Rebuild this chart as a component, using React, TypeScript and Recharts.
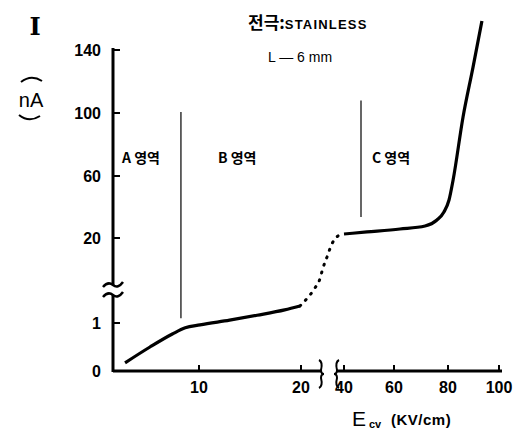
import React from "react";
import { LineChart, Line, XAxis, YAxis, ReferenceLine, Customized } from "recharts";

// E_cv (kV/cm) vs I (nA), three pieces of the curve
const lowFieldKV = [1.4, 4.3, 6.9, 8.4, 10.1, 13.0, 15.7, 18.4, 19.9];
const lowCurrentNA = [0.17, 0.5, 0.77, 0.9, 0.96, 1.06, 1.16, 1.27, 1.35];
const transFieldKV = [19.9, 23.3, 26.5, 28.8, 30.2, 32.1, 34.4, 37.2, 40];
const transCurrentNA = [1.35, 1.53, 2.06, 5.3, 9.2, 13.2, 17.9, 21.3, 22.6];
const highFieldKV = [40, 49.2, 62.2, 71.5, 75.9, 78.5, 80.4, 82, 85.9, 89.8, 93.3];
const highCurrentNA = [22.6, 23.9, 25.8, 27.7, 31.6, 36.8, 44.5, 57.4, 97.5, 129, 158.4];

const xTicks = [10, 20, 40, 60, 80, 100];
const yTicks = [0, 1, 20, 60, 100, 140];

// region boundaries: x value, y from, y to
const regionBoundKV = [7.9, 46.8];
const regionBoundFrom = [1.1, 33.5];
const regionBoundTo = [100.7, 108];
const regionNames = ["A 영역", "B 영역", "C 영역"];

// broken axes: piecewise scale anchors (value -> position in px from origin)
const X_VAL = [0, 10, 20, 40, 60, 80, 100];
const X_POS = [0, 86, 188, 231, 281, 335, 386];
const Y_VAL = [0, 1, 1.7, 20, 60, 100, 140];
const Y_POS = [0, 48, 82, 133, 195, 258, 321];

const W = 526;
const H = 435;
const LEFT = 113;
const TOP = 20;
const PLOT_W = 392;
const PLOT_H = 351;
const BOTTOM = TOP + PLOT_H;

const interp = (v: number, vals: number[], pos: number[]) => {
  let i = 0;
  while (i < vals.length - 2 && v > vals[i + 1]) i++;
  const t = (v - vals[i]) / (vals[i + 1] - vals[i]);
  return pos[i] + t * (pos[i + 1] - pos[i]);
};
const xPos = (v: number) => interp(v, X_VAL, X_POS);
const yPos = (v: number) => interp(v, Y_VAL, Y_POS);
const px = (v: number) => LEFT + xPos(v);
const py = (v: number) => BOTTOM - yPos(v);

const toRows = (xs: number[], ys: number[]) =>
  xs.map((x, i) => ({ x: xPos(x), y: yPos(ys[i]) }));

const lowData = toRows(lowFieldKV, lowCurrentNA);
const transData = toRows(transFieldKV, transCurrentNA);
const highData = toRows(highFieldKV, highCurrentNA);

const labelFont = "'Liberation Sans', Arial, sans-serif";
const krFont = "'Noto Sans CJK KR', 'Liberation Sans', sans-serif";

const XTick = (props: any) => {
  const { x, y, payload } = props;
  const label = xTicks[xTicks.map(xPos).findIndex((p) => Math.abs(p - payload.value) < 0.5)];
  return (
    <g>
      <line x1={x} y1={y} x2={x} y2={y - 6} stroke="#000" strokeWidth={2} />
      <text x={x} y={y + 22} textAnchor="middle" fontSize={16} fontWeight="bold" fontFamily={labelFont}>
        {label}
      </text>
    </g>
  );
};

const YTick = (props: any) => {
  const { x, y, payload } = props;
  const label = yTicks[yTicks.map(yPos).findIndex((p) => Math.abs(p - payload.value) < 0.5)];
  return (
    <g>
      {label !== 0 && <line x1={x} y1={y} x2={x + 7} y2={y} stroke="#000" strokeWidth={2} />}
      <text x={x - 12} y={y + 6} textAnchor="end" fontSize={16} fontWeight="bold" fontFamily={labelFont}>
        {label}
      </text>
    </g>
  );
};

const Decorations = () => {
  const yBreakLo = BOTTOM - 76;
  const yBreakHi = BOTTOM - 86;
  const xBreakL = LEFT + 208;
  const xBreakR = LEFT + 224;
  return (
    <g>
      {/* y axis with break */}
      <line x1={LEFT} y1={BOTTOM + 1} x2={LEFT} y2={yBreakLo} stroke="#000" strokeWidth={3} />
      <line x1={LEFT} y1={yBreakHi} x2={LEFT} y2={py(140) - 2} stroke="#000" strokeWidth={3} />
      <path d={`M ${LEFT - 10} ${yBreakHi + 2} q 5 -6 10 -2 q 5 4 10 -3`} fill="none" stroke="#000" strokeWidth={2.5} />
      <path d={`M ${LEFT - 10} ${yBreakLo + 2} q 5 -6 10 -2 q 5 4 10 -3`} fill="none" stroke="#000" strokeWidth={2.5} />
      {/* x axis with break */}
      <line x1={LEFT} y1={BOTTOM} x2={xBreakL} y2={BOTTOM} stroke="#000" strokeWidth={3} />
      <line x1={xBreakR} y1={BOTTOM} x2={px(100) + 3} y2={BOTTOM} stroke="#000" strokeWidth={3} />
      <path d={`M ${xBreakL - 2} ${BOTTOM - 11} q 4 2 2 10 q 0 4 3 4 q -3 0 -3 4 q 2 8 -2 10`} fill="none" stroke="#000" strokeWidth={2} />
      <path d={`M ${xBreakR + 2} ${BOTTOM - 11} q -4 2 -2 10 q 0 4 -3 4 q 3 0 3 4 q -2 8 2 10`} fill="none" stroke="#000" strokeWidth={2} />

      {/* y axis label */}
      <text x={35} y={35} textAnchor="middle" fontSize={24} fontWeight="bold" fontFamily="'DejaVu Serif', serif">
        I
      </text>
      <path d="M 21 82 Q 31 74 42 81" fill="none" stroke="#000" strokeWidth={2} />
      <text x={31} y={107} textAnchor="middle" fontSize={20} fontFamily={labelFont}>
        nA
      </text>
      <path d="M 19 115 Q 29 123 40 116" fill="none" stroke="#000" strokeWidth={2} />

      {/* title */}
      <text x={248} y={29} fontSize={17} fontWeight="bold" fontFamily={krFont}>
        전극:
        <tspan fontSize={13} fontFamily={labelFont} letterSpacing={1.2}>STAINLESS</tspan>
      </text>
      <text x={268} y={62} fontSize={14} fontFamily={labelFont}>
        L — 6 mm
      </text>

      {/* region labels */}
      <text x={122} y={163} fontSize={14} fontWeight="bold" fontFamily={krFont}>{regionNames[0]}</text>
      <text x={218} y={163} fontSize={14} fontWeight="bold" fontFamily={krFont}>{regionNames[1]}</text>
      <text x={372} y={163} fontSize={14} fontWeight="bold" fontFamily={krFont}>{regionNames[2]}</text>

      {/* x axis label */}
      <text x={352} y={426} fontSize={21} fontFamily={labelFont}>E</text>
      <text x={369} y={428} fontSize={11} fontWeight="bold" fontFamily={labelFont}>cv</text>
      <text x={391} y={425} fontSize={15} fontWeight="bold" fontFamily={labelFont} letterSpacing={0.5}>
        (KV/cm)
      </text>
    </g>
  );
};

export default function App() {
  return (
    <div style={{ position: "absolute", left: 0, top: 0, background: "#fff" }}>
      <LineChart
        width={W}
        height={H}
        margin={{ top: TOP, right: W - LEFT - PLOT_W, bottom: 0, left: 0 }}
      >
        <XAxis
          type="number"
          dataKey="x"
          domain={[0, PLOT_W]}
          ticks={xTicks.map(xPos)}
          tick={XTick}
          tickSize={0}
          tickMargin={0}
          axisLine={false}
          tickLine={false}
          height={H - BOTTOM}
          interval={0}
        />
        <YAxis
          type="number"
          dataKey="y"
          domain={[0, PLOT_H]}
          ticks={yTicks.map(yPos)}
          tick={YTick}
          tickSize={0}
          tickMargin={0}
          axisLine={false}
          tickLine={false}
          width={LEFT}
          interval={0}
        />
        {regionBoundKV.map((kv, i) => (
          <ReferenceLine
            key={i}
            segment={[
              { x: xPos(kv), y: yPos(regionBoundFrom[i]) },
              { x: xPos(kv), y: yPos(regionBoundTo[i]) },
            ]}
            stroke="#000"
            strokeWidth={1.2}
          />
        ))}
        <Line data={lowData} dataKey="y" type="monotone" stroke="#000" strokeWidth={3.2} dot={false} isAnimationActive={false} />
        <Line
          data={transData}
          dataKey="y"
          type="monotone"
          stroke="#000"
          strokeWidth={3}
          strokeDasharray="1 7"
          strokeLinecap="round"
          dot={false}
          isAnimationActive={false}
        />
        <Line data={highData} dataKey="y" type="monotone" stroke="#000" strokeWidth={3.2} dot={false} isAnimationActive={false} />
        <Customized component={Decorations} />
      </LineChart>
    </div>
  );
}
